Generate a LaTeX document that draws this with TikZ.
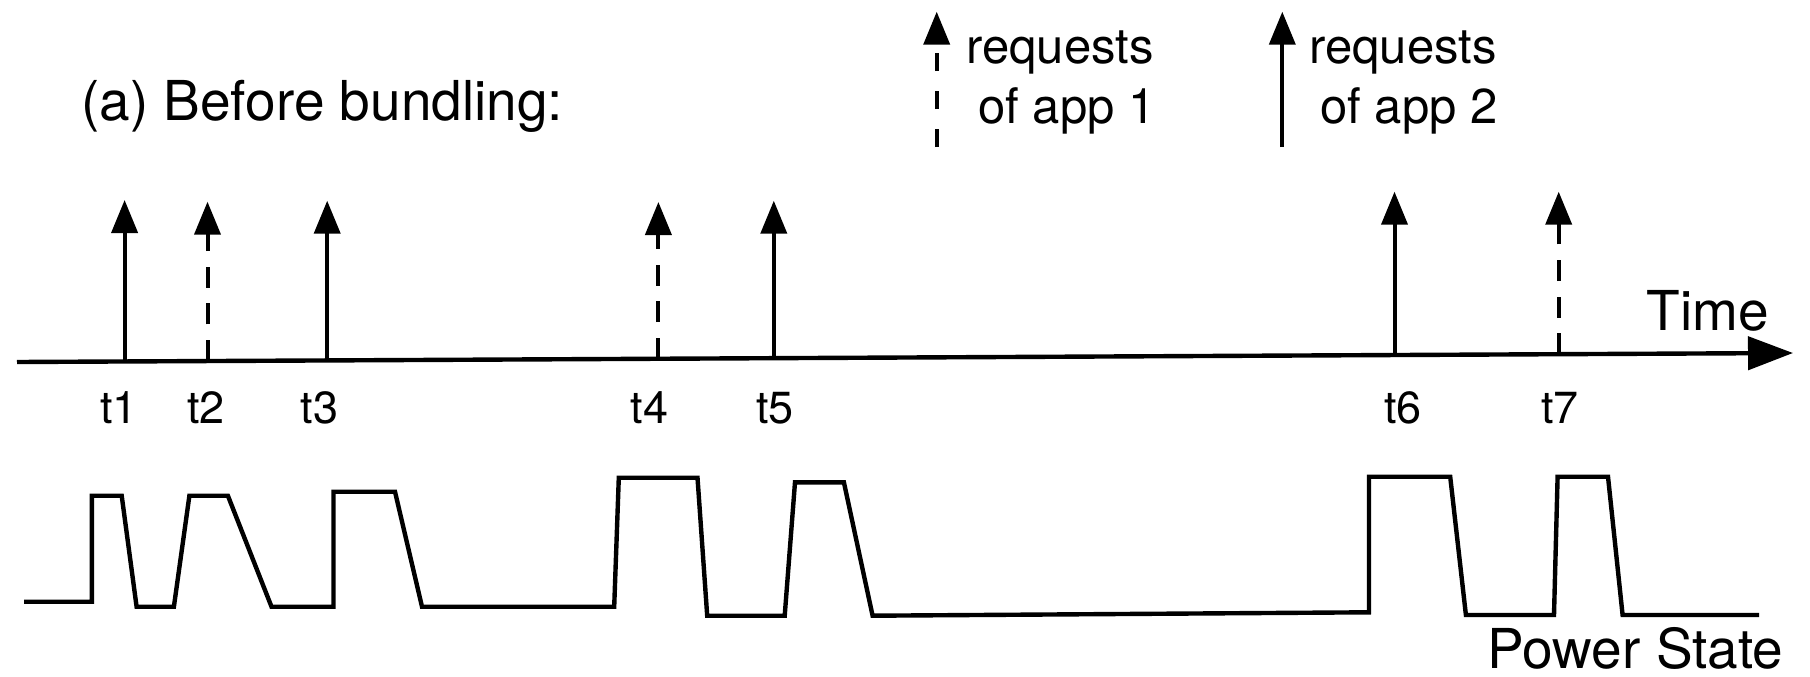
\documentclass[tikz,border=0pt]{standalone}
\usepackage{fontspec}
\setmainfont{TeX Gyre Heros}
\usetikzlibrary{arrows.meta}
\begin{document}
\begin{tikzpicture}[x=0.5pt,y=-0.5pt,
  lbl/.style={inner sep=0pt, font=\fontsize{27.5}{33}\selectfont},
  legendtxt/.style={inner sep=0pt, anchor=base west, font=\fontsize{24.5}{29}\selectfont},
  tlbl/.style={inner sep=0pt, anchor=base, font=\fontsize{22.5}{27}\selectfont},
  req/.style={line width=2pt, -{Triangle[length=16.5pt,width=13pt]}},
  app1/.style={req, dash pattern=on 10.5pt off 7.8pt},
  app2/.style={req},
  timeaxis/.style={line width=2.2pt, -{Triangle[length=22.5pt,width=16.5pt]}},
  power/.style={line width=2.2pt, line join=miter}]

\useasboundingbox (0,0) rectangle (1810,676);

% title
\node[lbl, anchor=base west] (title) at (80.8,120) {(a) Before bundling:};

% legend
\coordinate (k1b) at (936.7,147);
\coordinate (k1t) at (936.7,11.7);
\draw[app1, dash pattern=on 9pt off 10pt] (k1b) -- (k1t);
\node[legendtxt] (k1a) at (966,63) {requests};
\node[legendtxt] (k1c) at (978,123) {of app 1};

\coordinate (k2b) at (1282.3,147);
\coordinate (k2t) at (1282.3,11.7);
\draw[app2] (k2b) -- (k2t);
\node[legendtxt] (k2a) at (1309,63) {requests};
\node[legendtxt] (k2c) at (1320,123) {of app 2};

% time axis
\coordinate (axL) at (17,362);
\coordinate (axR) at (1793,353);
\draw[timeaxis] (axL) -- (axR);
\node[lbl, anchor=base east] (time) at (1769,330) {Time};

% requests on the time axis
\coordinate (b1) at (124.6,361.5);  \coordinate (e1) at (124.6,200);
\coordinate (b2) at (207.5,361.0);  \coordinate (e2) at (207.5,201.7);
\coordinate (b3) at (327.2,360.4);  \coordinate (e3) at (327.2,200.7);
\coordinate (b4) at (658.4,358.7);  \coordinate (e4) at (658.4,202);
\coordinate (b5) at (773.8,358.2);  \coordinate (e5) at (773.8,200.7);
\coordinate (b6) at (1394.5,355.0); \coordinate (e6) at (1394.5,191.7);
\coordinate (b7) at (1558.7,354.2); \coordinate (e7) at (1558.7,191.7);

\draw[app2] (b1) -- (e1);
\draw[app1] (b2) -- (e2);
\draw[app2] (b3) -- (e3);
\draw[app1] (b4) -- (e4);
\draw[app2] (b5) -- (e5);
\draw[app2] (b6) -- (e6);
\draw[app1] (b7) -- (e7);

% time labels
\node[tlbl] (t1) at (119,423) {t1};
\node[tlbl] (t2) at (206,423) {t2};
\node[tlbl] (t3) at (319.5,423) {t3};
\node[tlbl] (t4) at (649.5,423) {t4};
\node[tlbl] (t5) at (775,423) {t5};
\node[tlbl] (t6) at (1403,423) {t6};
\node[tlbl] (t7) at (1560,423) {t7};

% power state waveform
\draw[power] (24,601.7) -- (91.8,601.7) -- (91.8,495.7) -- (121.7,495.7)
  -- (136.6,606.7) -- (173.9,606.7) -- (189.4,495.7) -- (227.9,495.7)
  -- (271.5,606.7) -- (333.5,606.7) -- (333.5,491.7) -- (395,491.7)
  -- (422,606.7) -- (614.2,606.7) -- (618.8,477.7) -- (697.5,477.7)
  -- (707.2,615.7) -- (784.7,615.7) -- (795,482.3) -- (843.9,482.3)
  -- (872.6,615.7) -- (1369,612.3) -- (1369,476.7) -- (1450.2,476.7)
  -- (1465.9,615) -- (1554,615) -- (1557.6,476.7) -- (1608,476.7)
  -- (1622.6,615) -- (1759,615);
\node[lbl, anchor=base west] (pstate) at (1487,668) {Power State};

\end{tikzpicture}
\end{document}
